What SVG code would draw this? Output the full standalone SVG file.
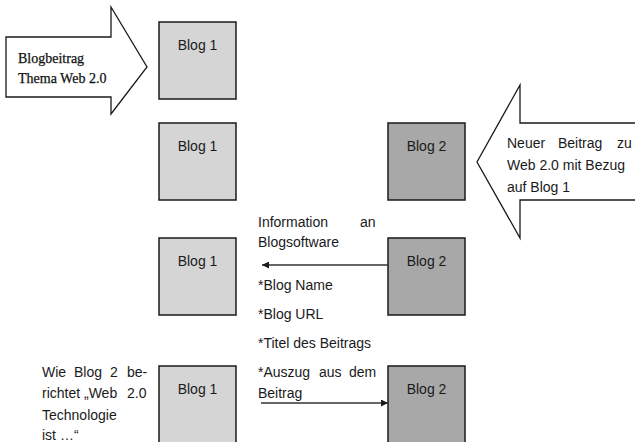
<svg xmlns="http://www.w3.org/2000/svg" width="635" height="442" viewBox="0 0 635 442">
<style>
.bg{fill:#ffffff}
.b1{fill:#d5d5d5;stroke:#1a1a1a;stroke-width:1.5}
.b2{fill:#a8a8a8;stroke:#1a1a1a;stroke-width:1.5}
.blk{fill:#ffffff;stroke:#1a1a1a;stroke-width:1.3;stroke-linejoin:miter}
.t{font-family:"Liberation Sans",Arial,sans-serif;font-size:14px;fill:#1a1a1a}
.c{text-anchor:middle}
.s{font-family:"Liberation Serif","Times New Roman",serif;font-size:14px;fill:#111111;stroke:#111111;stroke-width:0.25}
.ln{stroke:#333333;stroke-width:1.5;fill:none}
</style>
<defs>
<marker id="ah" viewBox="0 0 10 10" refX="10" refY="5" markerWidth="8" markerHeight="7" markerUnits="userSpaceOnUse" orient="auto">
<path d="M0,0 L10,5 L0,10 z" fill="#1a1a1a"/>
</marker>
</defs>
<rect class="bg" x="0" y="0" width="635" height="442"/>

<g id="arrow-blogbeitrag">
<polygon class="blk" points="6,37 111,37 111,7 147,67 111,114 111,97 6,97"/>
<text class="s" x="18" y="63">Blogbeitrag</text>
<text class="s" x="18" y="83">Thema Web 2.0</text>
</g>

<g id="arrow-neuer-beitrag">
<polygon class="blk" points="640,123 520,123 520,85 477,162 520,238 520,200 640,200"/>
<text class="t" x="507" y="148">Neuer</text>
<text class="t" x="558" y="148">Beitrag</text>
<text class="t" x="617" y="148">zu</text>
<text class="t" x="507" y="170">Web 2.0 mit Bezug</text>
<text class="t" x="507" y="192">auf Blog 1</text>
</g>

<g id="blog1-a"><rect class="b1" x="159" y="22" width="77" height="77"/><text class="t c" x="197.5" y="50">Blog 1</text></g>
<g id="blog1-b"><rect class="b1" x="159" y="123" width="77" height="77"/><text class="t c" x="197.5" y="151">Blog 1</text></g>
<g id="blog1-c"><rect class="b1" x="159" y="238" width="77" height="77"/><text class="t c" x="197.5" y="266">Blog 1</text></g>
<g id="blog1-d"><rect class="b1" x="159" y="366" width="77" height="77"/><text class="t c" x="197.5" y="394">Blog 1</text></g>

<g id="blog2-a"><rect class="b2" x="388" y="123" width="77" height="77"/><text class="t c" x="426.5" y="151">Blog 2</text></g>
<g id="blog2-b"><rect class="b2" x="388" y="238" width="77" height="77"/><text class="t c" x="426.5" y="266">Blog 2</text></g>
<g id="blog2-c"><rect class="b2" x="388" y="366" width="77" height="77"/><text class="t c" x="426.5" y="394">Blog 2</text></g>

<g id="connectors">
<line class="ln" x1="388" y1="265" x2="262" y2="265" marker-end="url(#ah)"/>
<line class="ln" x1="261" y1="403" x2="388" y2="403" marker-end="url(#ah)"/>
</g>

<g id="info-text">
<text class="t" x="258" y="227">Information</text>
<text class="t" x="360" y="227">an</text>
<text class="t" x="258" y="247">Blogsoftware</text>
<text class="t" x="258" y="290">*Blog Name</text>
<text class="t" x="258" y="319">*Blog URL</text>
<text class="t" x="258" y="348">*Titel des Beitrags</text>
<text class="t" x="258" y="377">*Auszug</text>
<text class="t" x="319" y="377">aus</text>
<text class="t" x="349" y="377">dem</text>
<text class="t" x="258" y="398">Beitrag</text>
</g>

<g id="wie-text">
<text class="t" x="42" y="377">Wie</text>
<text class="t" x="74" y="377">Blog</text>
<text class="t" x="110" y="377">2</text>
<text class="t" x="127" y="377">be-</text>
<text class="t" x="42" y="398">richtet</text>
<text class="t" x="84" y="398">„Web</text>
<text class="t" x="127" y="398">2.0</text>
<text class="t" x="42" y="420">Technologie</text>
<text class="t" x="42" y="440">ist …“</text>
</g>
</svg>
